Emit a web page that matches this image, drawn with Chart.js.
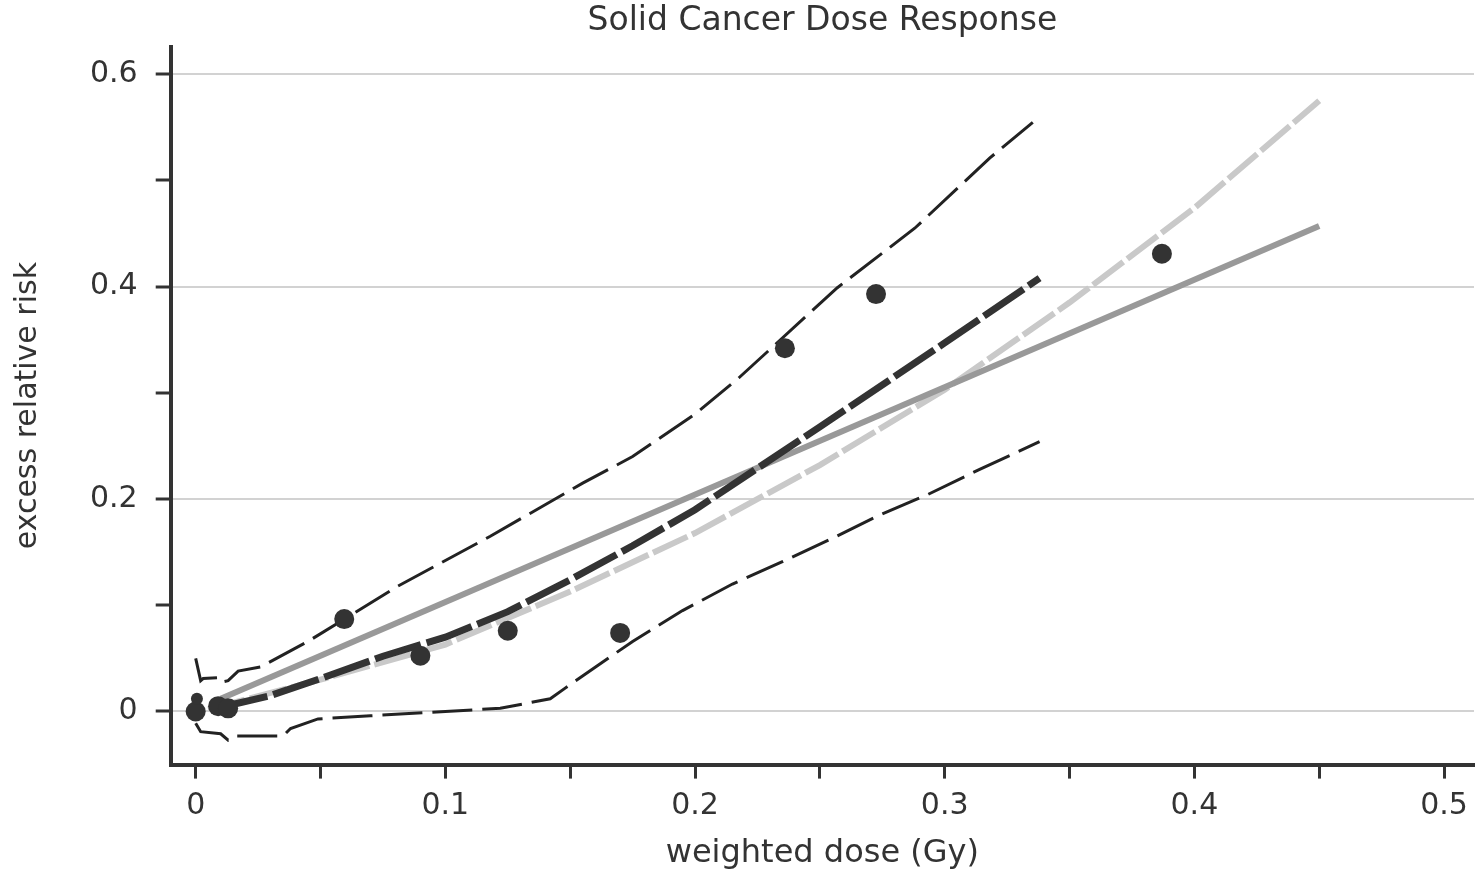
<!DOCTYPE html>
<html lang="en">

<head>
    <meta charset="UTF-8">
    <script src="https://cdn.jsdelivr.net/npm/chart.js"></script>
    <title>Solid Cancer Dose Response</title>
    <style>
        body { margin: 0; background: #fff; }
        #wrap { width: 1484px; height: 873px; }
    </style>
</head>

<body>
    <div id="wrap"><canvas id="myChart"></canvas></div>
    <script>
        // observed points
        const pointDose = [0, 0.0005, 0.009, 0.013, 0.0595, 0.09, 0.125, 0.17, 0.236, 0.2725, 0.387];
        const pointERR = [0, 0.012, 0.005, 0.003, 0.087, 0.0525, 0.076, 0.074, 0.342, 0.393, 0.431];

        // upper / lower confidence band (thin dashed)
        const upperDose = [0, 0.002, 0.003, 0.01, 0.011, 0.013, 0.017, 0.026, 0.045, 0.081, 0.118, 0.155, 0.175, 0.2, 0.2175, 0.257, 0.288, 0.318, 0.338];
        const upperERR = [0.05, 0.029, 0.031, 0.032, 0.028, 0.029, 0.038, 0.042, 0.066, 0.118, 0.165, 0.215, 0.24, 0.28, 0.314, 0.399, 0.455, 0.521, 0.56];
        const lowerDose = [0, 0.002, 0.01, 0.013, 0.016, 0.035, 0.038, 0.049, 0.07, 0.1, 0.122, 0.142, 0.148, 0.175, 0.195, 0.215, 0.235, 0.255, 0.273, 0.293, 0.314, 0.338];
        const lowerERR = [-0.011, -0.019, -0.021, -0.027, -0.023, -0.023, -0.016, -0.007, -0.004, 0, 0.003, 0.012, 0.022, 0.066, 0.095, 0.12, 0.141, 0.163, 0.184, 0.204, 0.228, 0.254];

        // smoothed fit (thick dark dashed)
        const smoothDose = [0.01, 0.03, 0.05, 0.075, 0.1, 0.125, 0.15, 0.175, 0.2, 0.25, 0.3, 0.338];
        const smoothERR = [0.004, 0.015, 0.031, 0.052, 0.07, 0.094, 0.124, 0.156, 0.19, 0.268, 0.347, 0.408];

        // linear-quadratic fit (light gray dashed)
        const lqDose = [0.005, 0.05, 0.1, 0.15, 0.2, 0.25, 0.3, 0.35, 0.4, 0.45];
        const lqERR = [0.002, 0.03, 0.063, 0.113, 0.168, 0.232, 0.303, 0.385, 0.474, 0.575];

        // linear fit (solid gray)
        const linDose = [0.01, 0.45];
        const linERR = [0.012, 0.457];

        const xTicks = [0, 0.05, 0.1, 0.15, 0.2, 0.25, 0.3, 0.35, 0.4, 0.45, 0.5];
        const xTickLabels = ['0', '', '0.1', '', '0.2', '', '0.3', '', '0.4', '', '0.5'];
        const yTicks = [0, 0.1, 0.2, 0.3, 0.4, 0.5, 0.6];
        const yTickLabels = ['0', '', '0.2', '', '0.4', '', '0.6'];

        function pairs(xs, ys) {
            return xs.map((x, i) => ({ x: x, y: ys[i] }));
        }

        const FONT = 'DejaVu Sans';
        const INK = '#333';

        function lineSet(xs, ys, color, width, dash) {
            return {
                data: pairs(xs, ys),
                showLine: true,
                borderColor: color,
                borderWidth: width,
                borderDash: dash,
                pointRadius: 0,
                fill: false,
                tension: 0
            };
        }

        let ctx = document.getElementById('myChart');
        let myChart = new Chart(ctx, {
            type: 'scatter',
            data: {
                datasets: [
                    {
                        data: pairs(pointDose, pointERR),
                        backgroundColor: INK,
                        borderWidth: 0,
                        pointRadius: c => (c.dataIndex === 1 ? 6 : 10)
                    },
                    lineSet(smoothDose, smoothERR, INK, 7, [48, 6]),
                    lineSet(upperDose, upperERR, '#222', 3, [40, 10]),
                    lineSet(lowerDose, lowerERR, '#222', 3, [40, 10]),
                    lineSet(linDose, linERR, '#999', 6, []),
                    lineSet(lqDose, lqERR, '#c9c9c9', 6, [38, 5])
                ]
            },
            options: {
                responsive: true,
                maintainAspectRatio: false,
                animation: false,
                layout: { padding: { top: 0, right: 6, bottom: 0, left: 0 } },
                plugins: {
                    legend: { display: false },
                    tooltip: { enabled: false },
                    title: {
                        display: true,
                        text: 'Solid Cancer Dose Response',
                        fullSize: false,
                        color: INK,
                        font: { family: FONT, size: 33, weight: 'normal' },
                        padding: { top: 2, bottom: 5 }
                    }
                },
                scales: {
                    x: {
                        type: 'linear',
                        min: -0.01,
                        max: 0.512,
                        afterBuildTicks: s => { s.ticks = xTicks.map(v => ({ value: v })); },
                        ticks: {
                            autoSkip: false,
                            maxRotation: 0,
                            padding: 10,
                            color: INK,
                            font: { family: FONT, size: 30 },
                            callback: (v, i) => xTickLabels[i]
                        },
                        grid: {
                            color: 'transparent',
                            tickColor: INK,
                            tickLength: 14,
                            tickWidth: 3
                        },
                        border: { display: true, color: INK, width: 4 },
                        title: {
                            display: true,
                            text: 'weighted dose (Gy)',
                            color: INK,
                            font: { family: FONT, size: 32 },
                            padding: { top: 0, bottom: 0 }
                        }
                    },
                    y: {
                        type: 'linear',
                        min: -0.05,
                        max: 0.626,
                        afterBuildTicks: s => { s.ticks = yTicks.map(v => ({ value: v })); },
                        ticks: {
                            autoSkip: false,
                            padding: 18,
                            color: INK,
                            font: { family: FONT, size: 30 },
                            callback: (v, i) => yTickLabels[i]
                        },
                        grid: {
                            color: c => (yTickLabels[c.index] ? '#d2d2d2' : 'transparent'),
                            lineWidth: 2,
                            tickColor: INK,
                            tickLength: 15,
                            tickWidth: 3
                        },
                        border: { display: true, color: INK, width: 4 },
                        title: {
                            display: true,
                            text: 'excess relative risk',
                            color: INK,
                            font: { family: FONT, size: 30 },
                            padding: { top: 10, bottom: 26 }
                        }
                    }
                }
            }
        });
    </script>
</body>

</html>
